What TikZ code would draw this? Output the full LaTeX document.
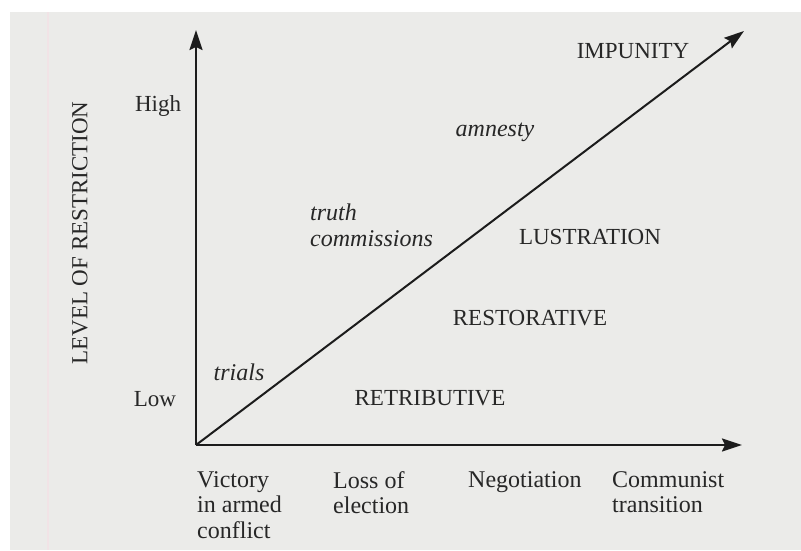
\documentclass[tikz,border=0pt]{standalone}
\usepackage{fontspec}
\setmainfont{Liberation Serif}
\usetikzlibrary{arrows.meta}
\definecolor{paper}{HTML}{EBEBE9}
\definecolor{ink}{HTML}{1C1C1C}
\definecolor{txt}{HTML}{272727}
\definecolor{crease}{HTML}{F1E3E6}
\begin{document}
\begin{tikzpicture}[x=1pt,y=-1pt,
  axis/.style={draw=ink,line width=2pt,-{Stealth[length=20pt,width=13pt,inset=3pt]}},
  caps/.style={text=txt,font=\fontsize{23}{27}\selectfont},
  term/.style={text=txt,font=\fontsize{24}{26}\selectfont\itshape},
  cat/.style={text=txt,font=\fontsize{24}{25.5}\selectfont,align=left,anchor=north west,inner sep=0pt}]
  % page: white margin and the paper area
  \useasboundingbox (0,0) rectangle (801,550);
  \fill[white] (0,0) rectangle (801,550);
  \fill[paper] (10,12) rectangle (801,550);
  \draw[crease,line width=1.5pt] (48,12) -- (48,550);

  % axes
  \coordinate (O) at (196,445);
  \coordinate (ytip) at (196,30);
  \coordinate (xtip) at (742,445);
  \coordinate (dtip) at (744,31);
  \draw[axis] (O) -- (ytip);
  \draw[axis] (O) -- (xtip);
  \draw[axis] (O) -- (dtip);

  % vertical axis labels
  \node[caps,rotate=90] (ylab) at (80,233) {LEVEL OF RESTRICTION};
  \node[text=txt,font=\fontsize{23}{25}\selectfont] (high) at (158,106) {High};
  \node[text=txt,font=\fontsize{23}{25}\selectfont] (low) at (155,399) {Low};

  % horizontal axis categories
  \node[cat] (victory) at (197,471) {Victory\\in armed\\conflict};
  \node[cat] (loss) at (333,471) {Loss of\\election};
  \node[cat] (nego) at (468,471) {Negotiation};
  \node[cat] (comm) at (612,471) {Communist\\transition};

  % mechanisms above the line
  \node[term] (trials) at (239,372) {trials};
  \node[term,align=left,anchor=west,inner sep=0pt] (truth) at (310,225) {truth\\commissions};
  \node[term] (amnesty) at (495,132) {amnesty};

  % forms of justice
  \node[caps] (impunity) at (633,51) {IMPUNITY};
  \node[caps] (lustration) at (590,237) {LUSTRATION};
  \node[caps] (restorative) at (530,318) {RESTORATIVE};
  \node[caps] (retributive) at (430,398) {RETRIBUTIVE};
\end{tikzpicture}
\end{document}
